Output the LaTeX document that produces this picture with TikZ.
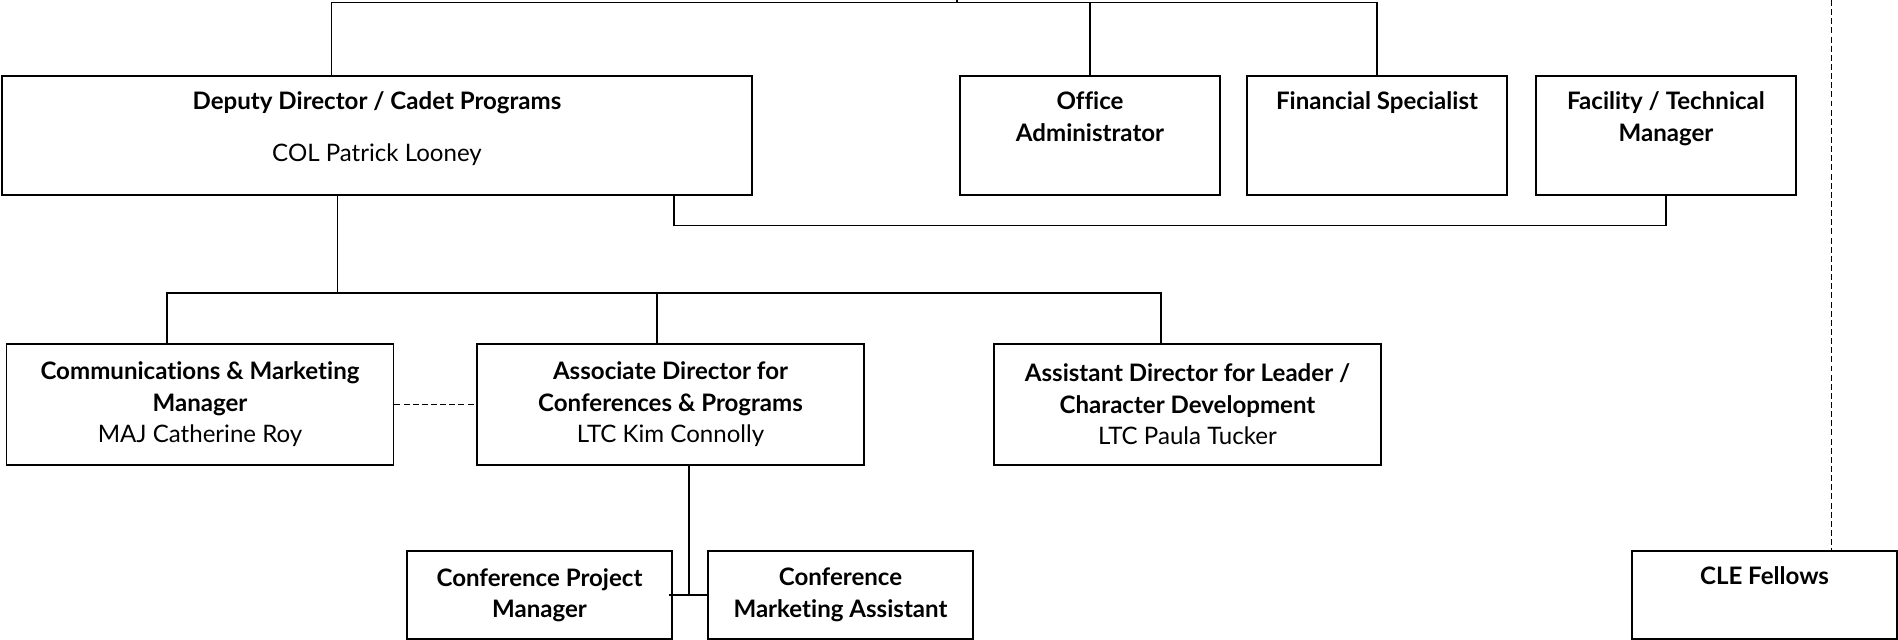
\documentclass[tikz,border=0pt]{standalone}
\usepackage{fontspec}
\setmainfont{Lato}[Ligatures=NoCommon]
\usetikzlibrary{positioning,calc}
\tikzset{
  unit/.style={draw, line width=1.1pt, inner sep=0pt, align=center},
  head/.style={inner sep=0pt, align=center},
  link/.style={line width=0.6pt},
  soft/.style={line width=0.6pt, dash pattern=on 3.4pt off 1.8pt}
}
\begin{document}
\begin{tikzpicture}[every node/.append style={font=\fontsize{13.7}{17.9}\selectfont}]
\useasboundingbox (0,0) rectangle (37.96,-12.8);
% top row
\node[unit, minimum width=15.0cm, minimum height=2.38cm] (dep) at (7.54,-2.71) {};
\node[head, below=0.33cm of dep.north] (deptxt) {\textbf{Deputy Director / Cadet Programs}\\[0.4cm]COL Patrick Looney};
\node[unit, minimum width=5.2cm, minimum height=2.38cm] (off) at (21.8,-2.71) {};
\node[head, below=0.33cm of off.north] (offtxt) {\textbf{Office}\\\textbf{Administrator}};
\node[unit, minimum width=5.2cm, minimum height=2.38cm] (fin) at (27.54,-2.71) {};
\node[head, below=0.33cm of fin.north] (fintxt) {\textbf{Financial Specialist}};
\node[unit, minimum width=5.2cm, minimum height=2.38cm] (fac) at (33.32,-2.71) {};
\node[head, below=0.33cm of fac.north] (factxt) {\textbf{Facility / Technical}\\\textbf{Manager}};
% middle row
\node[unit, minimum width=7.74cm, minimum height=2.42cm] (comm) at (4.0,-8.09) {\textbf{Communications \& Marketing}\\\textbf{Manager}\\MAJ Catherine Roy};
\node[unit, minimum width=7.74cm, minimum height=2.42cm] (assoc) at (13.41,-8.09) {\textbf{Associate Director for}\\\textbf{Conferences \& Programs}\\LTC Kim Connolly};
\node[unit, minimum width=7.74cm, minimum height=2.42cm] (asst) at (23.75,-8.09) {\textbf{Assistant Director for Leader /}\\\textbf{Character Development}\\LTC Paula Tucker};
% bottom row
\node[unit, minimum width=5.3cm, minimum height=1.76cm] (cpm) at (10.79,-11.9) {\textbf{Conference Project}\\\textbf{Manager}};
\node[unit, minimum width=5.3cm, minimum height=1.76cm] (cma) at (16.81,-11.9) {\textbf{Conference}\\\textbf{Marketing Assistant}};
\node[unit, minimum width=5.3cm, minimum height=1.76cm] (cle) at (35.29,-11.9) {};
\node[head, below=0.33cm of cle.north] (cletxt) {\textbf{CLE Fellows}};

\coordinate (up) at (19.14,0);
\coordinate (topbar) at (19.14,-0.05);
\coordinate (bus) at (0,-5.86);
\coordinate (cleup) at (36.63,0);

\draw[link] (up) -- (topbar);
\draw[link] ([xshift=-0.91cm]dep.north) |- (fin.north |- topbar) -- (fin.north);
\draw[link] (off.north) -- (off.north |- topbar);
\draw[link] ([xshift=5.94cm]dep.south) -- ++(0,-0.6) -| (fac.south);
\draw[link] ([xshift=-0.79cm]dep.south) -- ([xshift=-0.79cm]dep.south |- bus);
\draw[link] ([xshift=-0.66cm]comm.north) |- ([xshift=-0.53cm]asst.north |- bus) -- ([xshift=-0.53cm]asst.north);
\draw[link] ([xshift=-0.27cm]assoc.north) -- ([xshift=-0.27cm]assoc.north |- bus);
\draw[soft] (comm.east) -- (assoc.west);
\draw[link] ([xshift=0.37cm]assoc.south) -- ([xshift=0.37cm]assoc.south |- cpm.east);
\draw[link] ([xshift=-0.08cm]cpm.east) -- (cma.west);
\draw[soft] (cleup) -- (cleup |- cle.north);
\end{tikzpicture}
\end{document}
